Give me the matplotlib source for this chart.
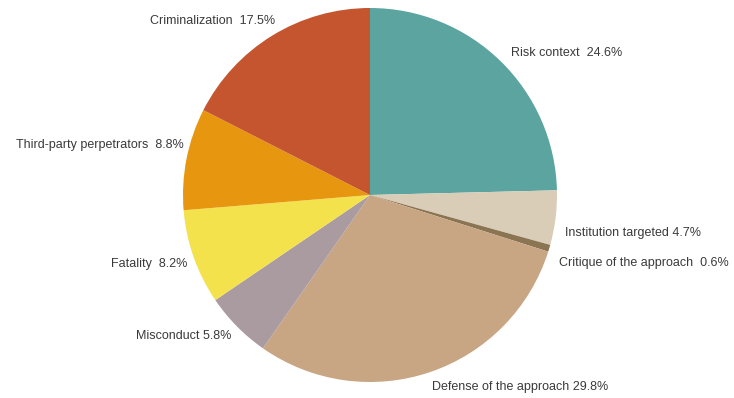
import matplotlib.pyplot as plt

# share of coded statements per category, clockwise from 12 o'clock
categories = ['Risk context', 'Institution targeted', 'Critique of the approach',
              'Defense of the approach', 'Misconduct', 'Fatality',
              'Third-party perpetrators', 'Criminalization']
shares = [24.6, 4.7, 0.6, 29.8, 5.8, 8.2, 8.8, 17.5]
label_text = ['Risk context  24.6%', 'Institution targeted 4.7%',
              'Critique of the approach  0.6%', 'Defense of the approach 29.8%',
              'Misconduct 5.8%', 'Fatality  8.2%',
              'Third-party perpetrators  8.8%', 'Criminalization  17.5%']

colors = ['#5ba49f', '#d9cdb7', '#8a7452', '#c8a583',
          '#aa9ba1', '#f3e24b', '#e7960f', '#c4552f']

# label anchors in pixel space (x, y from top) and alignment
label_pos = [(511, 53, 'left'), (565, 233, 'left'), (559, 263, 'left'),
             (432, 387, 'left'), (231, 336, 'right'), (187, 264, 'right'),
             (184, 145, 'right'), (275, 21, 'right')]

W, H = 734, 398
fig = plt.figure(figsize=(W / 100, H / 100), dpi=100)
ax = fig.add_axes([0, 0, 1, 1])

ax.pie(shares, colors=colors, startangle=90, counterclock=False,
       center=(370, H - 195), radius=187,
       wedgeprops=dict(linewidth=0))

# pie() resets the limits, so fix the pixel frame afterwards
ax.set_xlim(0, W)
ax.set_ylim(0, H)
ax.set_aspect('equal')
ax.axis('off')

for txt, (x, y, ha) in zip(label_text, label_pos):
    ax.text(x, H - y, txt, ha=ha, va='center', fontsize=9,
            family='Liberation Sans', color='#3a3a3a')

fig.savefig('out.png', dpi=100)
